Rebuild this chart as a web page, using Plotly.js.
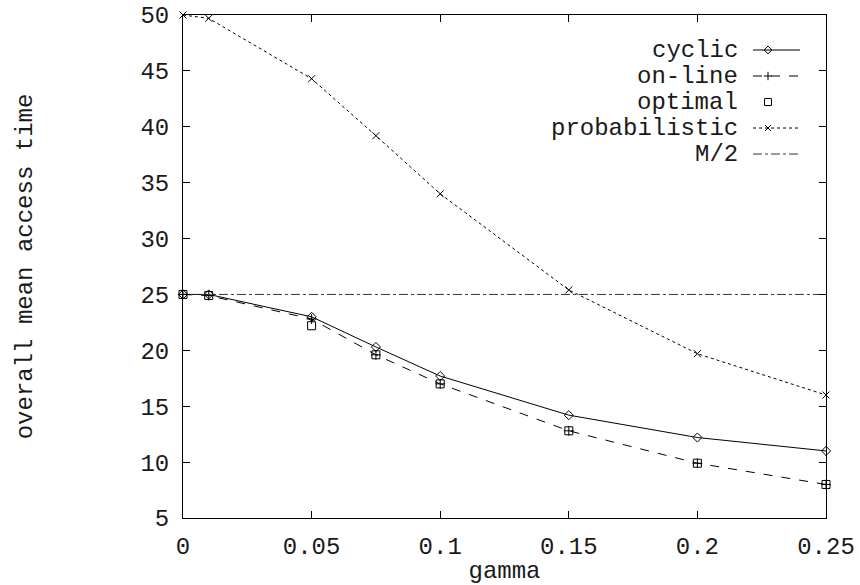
<!DOCTYPE html>
<html><head><meta charset="utf-8">
<script src="https://cdn.plot.ly/plotly-3.0.1.min.js"></script>
<style>body{margin:0;background:#fff}#c{width:860px;height:585px}</style>
</head><body><div id="c"></div>
<script>
const gamma = [0, 0.01, 0.05, 0.075, 0.1, 0.15, 0.2, 0.25];
const cyclic = [25, 25, 23.0, 20.3, 17.7, 14.2, 12.2, 11.0];
const online = [25, 24.9, 22.8, 19.6, 17.0, 12.8, 9.9, 8.0];
const optimal = [25, 24.9, 22.2, 19.6, 17.0, 12.8, 9.9, 8.0];
const probabilistic = [50, 49.7, 44.3, 39.2, 34.0, 25.4, 19.7, 16.0];
const mHalfX = [0, 0.25];
const mHalf = [25, 25];
const legendNames = ["cyclic", "on-line", "optimal", "probabilistic", "M/2"];
const xTicks = [0, 0.05, 0.1, 0.15, 0.2, 0.25];
const xTickText = ["0", "0.05", "0.1", "0.15", "0.2", "0.25"];
const yTicks = [5, 10, 15, 20, 25, 30, 35, 40, 45, 50];

const FONT = "Liberation Mono, DejaVu Sans Mono, monospace";
const FS = 24;
const C = "#000";
const TC = "#1a1a1a";
const styles = [
  {dash: "solid", symbol: "diamond-open", mode: "lines+markers", size: 7},
  {dash: "dash", symbol: "cross-thin-open", mode: "lines+markers", size: 7},
  {dash: "solid", symbol: "square-open", mode: "markers", size: 8},
  {dash: "dot", symbol: "x-thin-open", mode: "lines+markers", size: 7},
  {dash: "dashdot", symbol: "circle", mode: "lines", size: 1}
];
const seriesX = [gamma, gamma, gamma, gamma, mHalfX];
const seriesY = [cyclic, online, optimal, probabilistic, mHalf];

const traces = [];
for (let i = 0; i < 5; i++) {
  const s = styles[i];
  traces.push({
    x: seriesX[i], y: seriesY[i], type: "scatter", mode: s.mode,
    name: legendNames[i], showlegend: false, cliponaxis: false,
    line: {color: i === 4 ? "#333" : C, width: 1, dash: s.dash},
    marker: {symbol: s.symbol, size: s.size, color: C, line: {color: C, width: 1}}
  });
}
// legend samples drawn on a hidden overlay axis (0..1)
const legTop = 0.9304, legStep = 0.0517;
const annotations = [];
for (let i = 0; i < 5; i++) {
  const s = styles[i];
  const yy = legTop - i * legStep;
  if (s.mode !== "markers") {
    traces.push({
      x: [0.8865, 0.9596], y: [yy, yy], xaxis: "x2", yaxis: "y2", type: "scatter",
      mode: "lines", showlegend: false, hoverinfo: "skip",
      line: {color: i === 4 ? "#333" : C, width: 1, dash: s.dash}
    });
  }
  if (s.mode !== "lines") {
    traces.push({
      x: [0.9098], y: [yy], xaxis: "x2", yaxis: "y2", type: "scatter", mode: "markers",
      showlegend: false, hoverinfo: "skip",
      marker: {symbol: s.symbol, size: s.size - 1, color: C, line: {color: C, width: 1}}
    });
  }
  annotations.push({
    xref: "x2", yref: "y2", x: 0.8616, y: yy, text: legendNames[i], showarrow: false,
    xanchor: "right", yanchor: "middle", xshift: 3, font: {family: FONT, size: FS, color: TC}
  });
}

const layout = {
  width: 860, height: 585,
  margin: {l: 183, r: 34, t: 15, b: 67},
  paper_bgcolor: "#fff", plot_bgcolor: "#fff",
  showlegend: false,
  font: {family: FONT, size: FS, color: TC},
  xaxis: {
    range: [0, 0.25], tickvals: xTicks, ticktext: xTickText,
    ticks: "inside", ticklen: 7, tickcolor: C, tickwidth: 1,
    showline: true, linecolor: C, linewidth: 1, mirror: "ticks",
    showgrid: false, zeroline: false, ticklabelstandoff: 6,
    tickfont: {family: FONT, size: FS, color: TC},
    title: {text: "gamma", standoff: 0, font: {family: FONT, size: FS, color: TC}}
  },
  yaxis: {
    range: [5, 50], tickvals: yTicks,
    ticks: "inside", ticklen: 7, tickcolor: C, tickwidth: 1,
    showline: true, linecolor: C, linewidth: 1, mirror: "ticks",
    showgrid: false, zeroline: false, ticklabelstandoff: 8,
    tickfont: {family: FONT, size: FS, color: TC},
    title: {text: "overall mean access time", standoff: 100, font: {family: FONT, size: FS, color: TC}}
  },
  xaxis2: {overlaying: "x", range: [0, 1], visible: false, fixedrange: true},
  yaxis2: {overlaying: "y", range: [0, 1], visible: false, fixedrange: true},
  annotations: annotations
};
Plotly.newPlot("c", traces, layout, {displayModeBar: false, staticPlot: true});
</script></body></html>
